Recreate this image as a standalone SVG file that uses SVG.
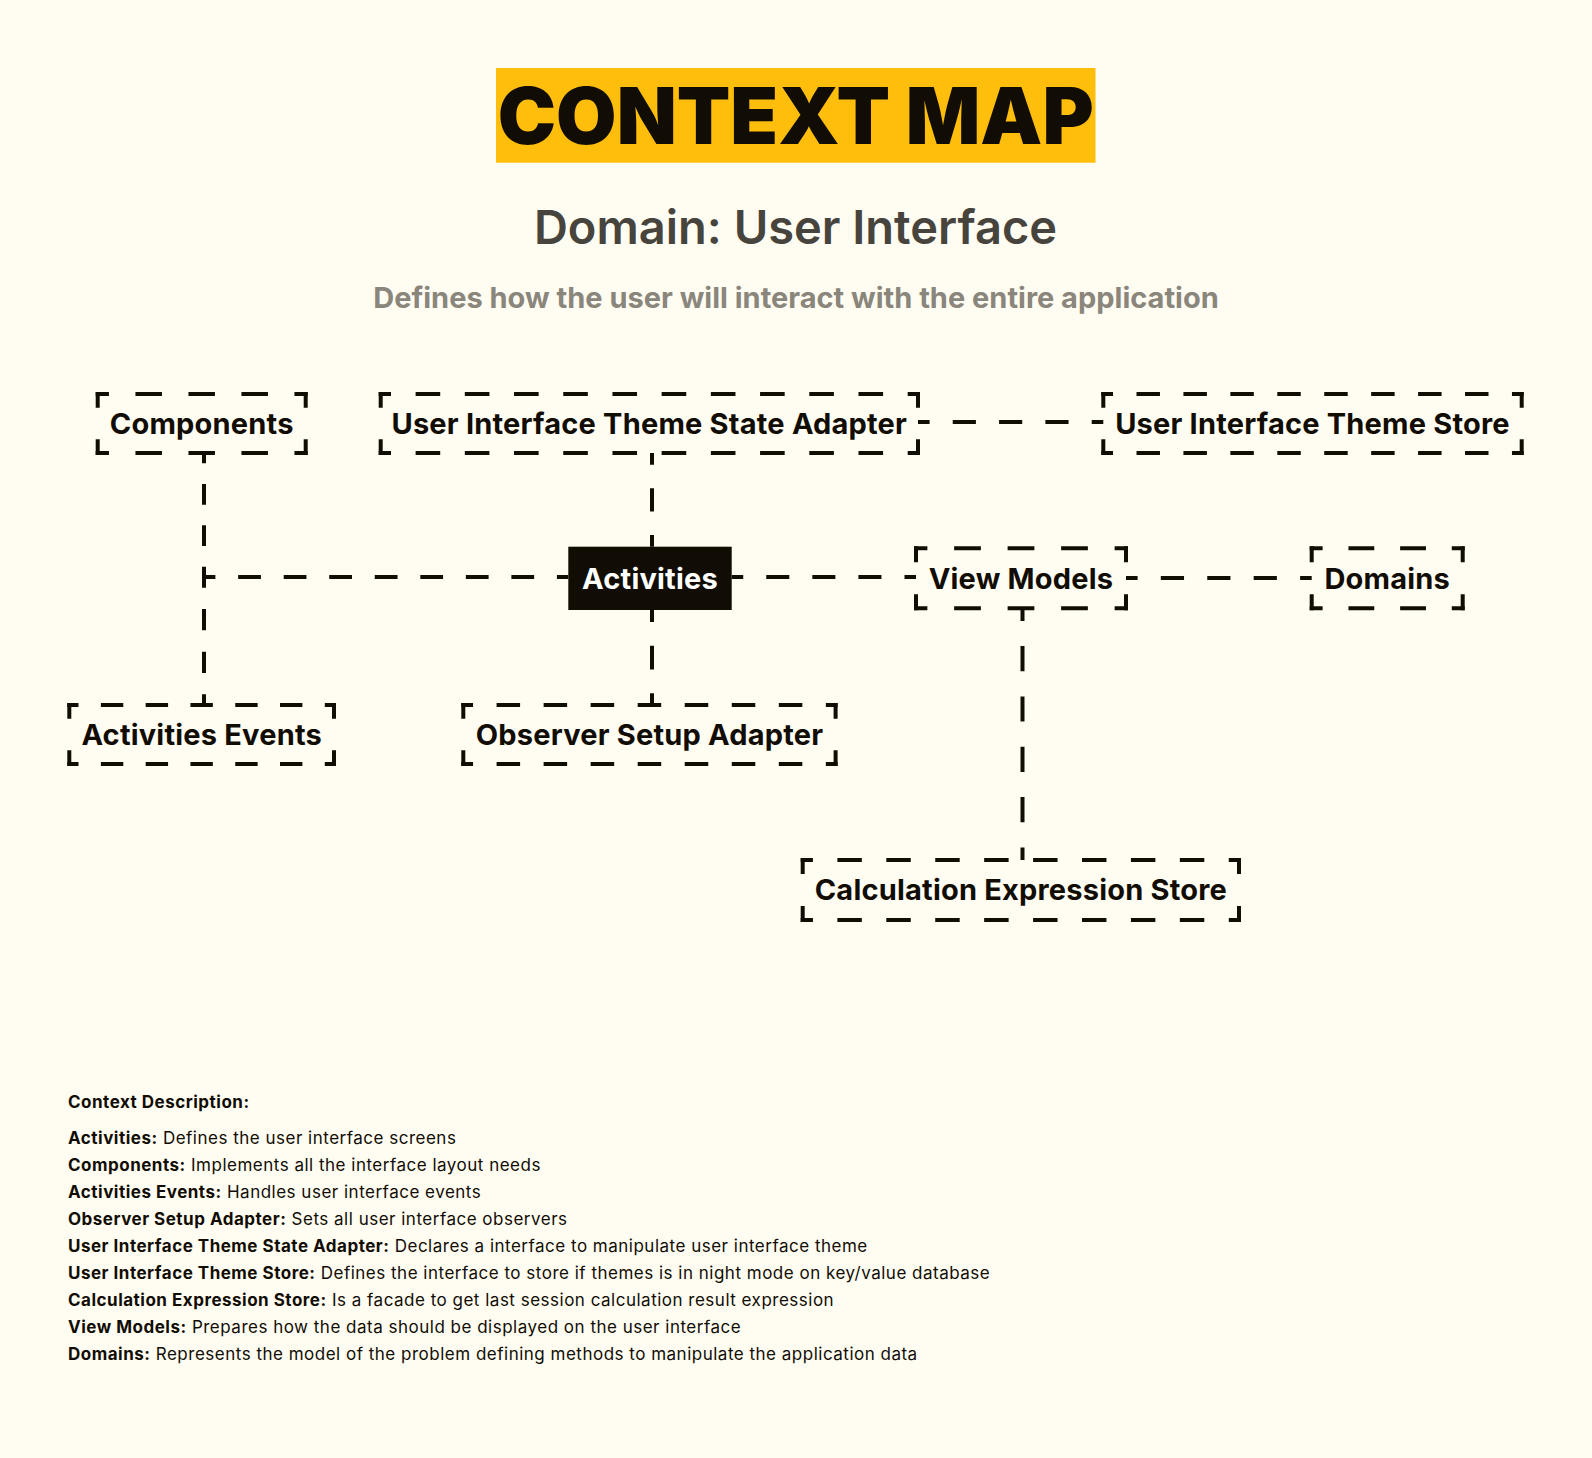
<svg xmlns="http://www.w3.org/2000/svg" width="1592" height="1458" viewBox="0 0 1592 1458">
<style>
text{font-family:Inter,"Noto Sans","Liberation Sans",sans-serif}
.dash{fill:none;stroke:#110d04;stroke-width:4;stroke-dasharray:1 1;stroke-dashoffset:0.5;stroke-linecap:butt}
.lbl{font-size:29px;font-weight:700;fill:#110d04;text-anchor:middle;letter-spacing:0.2px}
.desc{font-size:17px;fill:#110d04;letter-spacing:0.5px}
.desc tspan.b{font-weight:700}
</style>
<rect x="0" y="0" width="1592" height="1458" fill="#fffcf2"/>
<g id="title">
<rect x="496" y="68" width="599.5" height="94.7" fill="#ffbe0b"/>
<text x="795.7" y="143.5" font-size="78" font-weight="900" fill="#110d04" text-anchor="middle" textLength="596" lengthAdjust="spacingAndGlyphs">CONTEXT MAP</text>
</g>
<text x="795.5" y="244.3" font-size="47" font-weight="600" fill="#47443d" text-anchor="middle">Domain: User Interface</text>
<text x="796" y="308.3" font-size="29" font-weight="700" fill="#8a867c" text-anchor="middle">Defines how the user will interact with the entire application</text>

<g id="connectors">
<path class="dash" pathLength="16" d="M568.3 577 H204"/>
<path class="dash" pathLength="6" d="M204 577 V453"/>
<path class="dash" pathLength="6" d="M204 577 V705"/>
<path class="dash" pathLength="4" d="M652 453 V546.7"/>
<path class="dash" pathLength="4" d="M652 610 V705"/>
<path class="dash" pathLength="8" d="M918 422 H1103.3"/>
<path class="dash" pathLength="8" d="M731.7 577 H916"/>
<path class="dash" pathLength="8" d="M1126 578 H1311.7"/>
<path class="dash" pathLength="10" d="M1022.5 608.3 V860"/>
</g>

<g id="node-components">
<path class="dash" pathLength="8" d="M95.7 394 H307.7"/>
<path class="dash" pathLength="8" d="M95.7 453 H307.7"/>
<path class="dash" pathLength="2" d="M97.7 392 V455"/>
<path class="dash" pathLength="2" d="M305.7 392 V455"/>
<text class="lbl" x="201.7" y="433.5">Components</text>
</g>
<g id="node-ui-theme-state-adapter">
<path class="dash" pathLength="22" d="M378.7 394 H920"/>
<path class="dash" pathLength="22" d="M378.7 453 H920"/>
<path class="dash" pathLength="2" d="M380.7 392 V455"/>
<path class="dash" pathLength="2" d="M918 392 V455"/>
<text class="lbl" x="649.3" y="433.5">User Interface Theme State Adapter</text>
</g>
<g id="node-ui-theme-store">
<path class="dash" pathLength="18" d="M1101.3 394 H1523.7"/>
<path class="dash" pathLength="18" d="M1101.3 453 H1523.7"/>
<path class="dash" pathLength="2" d="M1103.3 392 V455"/>
<path class="dash" pathLength="2" d="M1521.7 392 V455"/>
<text class="lbl" x="1312.5" y="433.5">User Interface Theme Store</text>
</g>
<g id="node-activities">
<rect x="568.3" y="546.7" width="163.4" height="63.3" fill="#110d04"/>
<text class="lbl" x="650" y="588.5" style="fill:#ffffff">Activities</text>
</g>
<g id="node-view-models">
<path class="dash" pathLength="8" d="M914 548.3 H1128"/>
<path class="dash" pathLength="8" d="M914 608.3 H1128"/>
<path class="dash" pathLength="2" d="M916 546.3 V610.3"/>
<path class="dash" pathLength="2" d="M1126 546.3 V610.3"/>
<text class="lbl" x="1021" y="588.5">View Models</text>
</g>
<g id="node-domains">
<path class="dash" pathLength="6" d="M1309.7 548.3 H1464.7"/>
<path class="dash" pathLength="6" d="M1309.7 608.3 H1464.7"/>
<path class="dash" pathLength="2" d="M1311.7 546.3 V610.3"/>
<path class="dash" pathLength="2" d="M1462.7 546.3 V610.3"/>
<text class="lbl" x="1387.2" y="588.5">Domains</text>
</g>
<g id="node-activities-events">
<path class="dash" pathLength="12" d="M67.3 705 H336"/>
<path class="dash" pathLength="12" d="M67.3 764 H336"/>
<path class="dash" pathLength="2" d="M69.3 703 V766"/>
<path class="dash" pathLength="2" d="M334 703 V766"/>
<text class="lbl" x="201.7" y="744.5">Activities Events</text>
</g>
<g id="node-observer-setup-adapter">
<path class="dash" pathLength="16" d="M461.3 705 H837.6"/>
<path class="dash" pathLength="16" d="M461.3 764 H837.6"/>
<path class="dash" pathLength="2" d="M463.3 703 V766"/>
<path class="dash" pathLength="2" d="M835.6 703 V766"/>
<text class="lbl" x="649.5" y="744.5">Observer Setup Adapter</text>
</g>
<g id="node-calculation-expression-store">
<path class="dash" pathLength="18" d="M800.7 860 H1241"/>
<path class="dash" pathLength="18" d="M800.7 920 H1241"/>
<path class="dash" pathLength="2" d="M802.7 858 V922"/>
<path class="dash" pathLength="2" d="M1239 858 V922"/>
<text class="lbl" x="1020.9" y="900">Calculation Expression Store</text>
</g>

<g id="description">
<text class="desc" x="68" y="1108" font-weight="700">Context Description:</text>
<text class="desc" x="68" y="1144"><tspan class="b">Activities:</tspan> Defines the user interface screens</text>
<text class="desc" x="68" y="1171"><tspan class="b">Components:</tspan> Implements all the interface layout needs</text>
<text class="desc" x="68" y="1198"><tspan class="b">Activities Events:</tspan> Handles user interface events</text>
<text class="desc" x="68" y="1225"><tspan class="b">Observer Setup Adapter:</tspan> Sets all user interface observers</text>
<text class="desc" x="68" y="1252"><tspan class="b">User Interface Theme State Adapter:</tspan> Declares a interface to manipulate user interface theme</text>
<text class="desc" x="68" y="1279"><tspan class="b">User Interface Theme Store:</tspan> Defines the interface to store if themes is in night mode on key/value database</text>
<text class="desc" x="68" y="1306"><tspan class="b">Calculation Expression Store:</tspan> Is a facade to get last session calculation result expression</text>
<text class="desc" x="68" y="1333"><tspan class="b">View Models:</tspan> Prepares how the data should be displayed on the user interface</text>
<text class="desc" x="68" y="1360"><tspan class="b">Domains:</tspan> Represents the model of the problem defining methods to manipulate the application data</text>
</g>
</svg>
